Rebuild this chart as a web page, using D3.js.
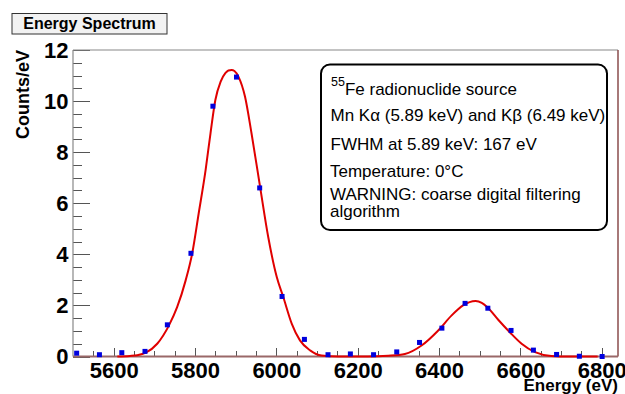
<!DOCTYPE html>
<html>
<head>
<meta charset="utf-8">
<title>Energy Spectrum</title>
<script src="https://d3js.org/d3.v7.min.js"></script>
<style>
  body { margin: 0; background: #fff; }
  text { font-family: "Liberation Sans", Arial, sans-serif; }
  .axis text { font-size: 22px; font-weight: bold; fill: #000; }
  .axis line { stroke: #555; shape-rendering: crispEdges; }
  .fit { fill: none; stroke: #e00000; stroke-width: 2px; }
  .pt { fill: #0000dd; }
  .leg { font-size: 17px; fill: #000; }
</style>
</head>
<body>
<script>
// measured bins (blue markers)
var binEnergy = [5509, 5565, 5620, 5677, 5732, 5790, 5844, 5902, 5959, 6014, 6069, 6127,
                 6182, 6239, 6296, 6352, 6407, 6464, 6520, 6577, 6632, 6689, 6745, 6801];
var binCounts = [0.13, 0.07, 0.15, 0.2, 1.24, 4.04, 9.8, 10.94, 6.6, 2.35, 0.67, 0.07,
                 0.1, 0.07, 0.18, 0.55, 1.11, 2.08, 1.89, 1.02, 0.25, 0.08, 0.01, 0.0];

// red fit curve
var fitEnergy = [5609, 5640, 5658, 5679, 5707, 5736, 5756, 5777, 5793, 5809, 5826, 5838, 5850, 5863, 5875,
                 5882, 5890, 5897, 5907, 5923, 5939, 5960, 5980, 6001, 6017, 6038, 6058, 6083, 6111,
                 6152, 6200, 6250, 6275, 6316, 6357, 6398, 6431, 6460, 6475, 6490, 6505, 6520, 6546,
                 6574, 6603, 6636, 6676, 6717, 6790];
var fitCounts = [0, 0.02, 0.05, 0.15, 0.5, 1.22, 1.93, 2.98, 4.03, 5.6, 7.3, 8.73, 10.04, 10.76, 11.1,
                 11.2, 11.22, 11.18, 10.95, 10.17, 8.73, 6.64, 4.68, 3.11, 2.33, 1.28, 0.63, 0.24, 0.04,
                 0, 0, 0.01, 0.03, 0.1, 0.43, 1.02, 1.61, 2.01, 2.13, 2.17, 2.1, 1.91, 1.43,
                 0.95, 0.5, 0.17, 0.02, 0, 0];

var xMajor = [5600, 5800, 6000, 6200, 6400, 6600, 6800];
var yMajor = [0, 2, 4, 6, 8, 10, 12];

var legendLines = [
  "Mn K\u03b1 (5.89 keV) and K\u03b2 (6.49 keV)",
  "FWHM at 5.89 keV: 167 eV",
  "Temperature: 0\u00b0C",
  "WARNING: coarse digital filtering",
  "algorithm"
];

var W = 625, H = 394;
var padL = 73, padR = 618, padT = 50, padB = 356.5;

var x = d3.scaleLinear().domain([5500, 6840]).range([padL, padR]);
var y = d3.scaleLinear().domain([0, 12]).range([padB, padT]);

var svg = d3.select("body").append("svg").attr("width", W).attr("height", H);

// minor ticks
var xMinor = d3.range(5550, 6841, 50).filter(function (v) { return xMajor.indexOf(v) < 0; });
svg.append("g").attr("class", "axis")
  .attr("transform", "translate(0," + padB + ")")
  .call(d3.axisBottom(x).tickValues(xMinor).tickSize(-6).tickFormat(""))
  .call(function (g) { g.select(".domain").remove(); });
svg.append("g").attr("class", "axis")
  .attr("transform", "translate(0," + padB + ")")
  .call(d3.axisBottom(x).tickValues(xMajor).tickSize(-9).tickPadding(5.5).tickFormat(d3.format("d")))
  .call(function (g) { g.select(".domain").remove(); });

var yMinor = d3.range(0.5, 12, 0.5).filter(function (v) { return yMajor.indexOf(v) < 0; });
svg.append("g").attr("class", "axis")
  .attr("transform", "translate(" + padL + ",0)")
  .call(d3.axisLeft(y).tickValues(yMinor).tickSize(-9).tickFormat(""))
  .call(function (g) { g.select(".domain").remove(); });
svg.append("g").attr("class", "axis")
  .attr("transform", "translate(" + padL + ",0)")
  .call(d3.axisLeft(y).tickValues(yMajor).tickSize(-17).tickPadding(4.5).tickFormat(d3.format("d")))
  .call(function (g) { g.select(".domain").remove(); });

// frame
svg.append("line").attr("x1", padL).attr("x2", padR).attr("y1", padT).attr("y2", padT)
  .attr("stroke", "#888").attr("stroke-width", 1.2);
svg.append("line").attr("x1", padL).attr("x2", padL).attr("y1", padT).attr("y2", padB)
  .attr("stroke", "#888").attr("stroke-width", 1.2);
svg.append("line").attr("x1", padR).attr("x2", padR).attr("y1", padT).attr("y2", padB)
  .attr("stroke", "#8a4c4c").attr("stroke-width", 1.5);
svg.append("line").attr("x1", padL).attr("x2", padR).attr("y1", padB).attr("y2", padB)
  .attr("stroke", "#9a6868").attr("stroke-width", 2);

// fit
var line = d3.line()
  .x(function (d, i) { return x(fitEnergy[i]); })
  .y(function (d) { return y(d); })
  .curve(d3.curveMonotoneX);
svg.append("path").attr("class", "fit").attr("d", line(fitCounts));

// markers
svg.selectAll("rect.pt").data(binCounts).enter().append("rect")
  .attr("class", "pt")
  .attr("x", function (d, i) { return x(binEnergy[i]) - 2.5; })
  .attr("y", function (d) { return y(d) - 2.5; })
  .attr("width", 5).attr("height", 5);

// axis titles
svg.append("text").attr("x", padR).attr("y", 391).attr("text-anchor", "end")
  .style("font-size", "17px").style("font-weight", "bold").text("Energy (eV)");
svg.append("text").attr("transform", "translate(29," + padT + ") rotate(-90)")
  .attr("text-anchor", "end").style("font-size", "18px").style("font-weight", "bold")
  .text("Counts/eV");

// title box
svg.append("rect").attr("x", 12).attr("y", 13.5).attr("width", 155).attr("height", 20.5)
  .attr("fill", "#f2f2f2").attr("stroke", "#333").attr("stroke-width", 1);
svg.append("text").attr("x", 89.5).attr("y", 29).attr("text-anchor", "middle")
  .style("font-size", "16px").style("font-weight", "bold").text("Energy Spectrum");

// legend box
svg.append("rect").attr("x", 321).attr("y", 64.5).attr("width", 286).attr("height", 165.5)
  .attr("rx", 9).attr("fill", "#fff").attr("stroke", "#000").attr("stroke-width", 2);
var first = svg.append("text").attr("class", "leg").attr("x", 331).attr("y", 95);
first.append("tspan").attr("dy", -9).style("font-size", "12.5px").text("55");
first.append("tspan").attr("dy", 9).text("Fe radionuclide source");
var legY = [121, 150, 177, 200, 217];
svg.selectAll("text.leg2").data(legendLines).enter().append("text")
  .attr("class", "leg leg2")
  .attr("x", function (d, i) { return i >= 2 ? 330 : 330.5; })
  .attr("y", function (d, i) { return legY[i]; })
  .text(function (d) { return d; });
</script>
</body>
</html>
